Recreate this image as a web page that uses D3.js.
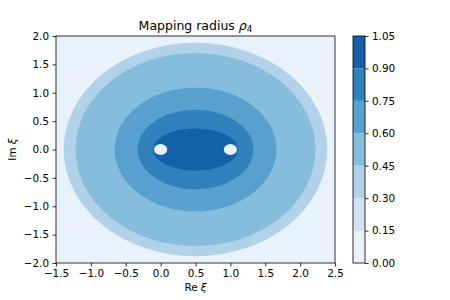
<!DOCTYPE html>
<html>
<head>
<meta charset="utf-8">
<script src="https://cdn.jsdelivr.net/npm/d3@7"></script>
<style>
  body { margin: 0; background: #fff; }
  text { font-family: "DejaVu Sans", sans-serif; fill: #000; }
</style>
</head>
<body>
<div id="chart"></div>
<script>
// contour levels and the colour of each filled band
const levels = [0, 0.15, 0.30, 0.45, 0.60, 0.75, 0.90, 1.05];
const bandColors = ["#e9f2fa", "#cfe1f2", "#b1d2e8", "#86bcdc", "#58a1cf", "#3181bd", "#1461a8"];

// outer edge of each visible band (centre Re = 0.5, Im = 0)
const bandLower = [0.30, 0.45, 0.60, 0.75, 0.90];
const semiRe = [1.89, 1.72, 1.16, 0.83, 0.61];
const semiIm = [1.88, 1.70, 1.09, 0.70, 0.37];
const centerRe = 0.5;

// excluded points
const holesRe = [0, 1];
const holeRadius = 0.095;

const xTicks = [-1.5, -1.0, -0.5, 0.0, 0.5, 1.0, 1.5, 2.0, 2.5];
const yTicks = [-2.0, -1.5, -1.0, -0.5, 0.0, 0.5, 1.0, 1.5, 2.0];

const width = 450, height = 300;
const plot = { left: 56, right: 335, top: 36, bottom: 263 };
const cbar = { left: 353, right: 365 };

const svg = d3.select("#chart").append("svg")
  .attr("width", width)
  .attr("height", height);

const x = d3.scaleLinear().domain([-1.5, 2.5]).range([plot.left, plot.right]);
const y = d3.scaleLinear().domain([-2, 2]).range([plot.bottom, plot.top]);
const colorOf = v => bandColors[d3.bisectRight(levels, v) - 1];

svg.append("clipPath").attr("id", "clip")
  .append("rect")
  .attr("x", plot.left).attr("y", plot.top)
  .attr("width", plot.right - plot.left).attr("height", plot.bottom - plot.top);

const g = svg.append("g").attr("clip-path", "url(#clip)");

// lowest band fills the background
g.append("rect")
  .attr("x", plot.left).attr("y", plot.top)
  .attr("width", plot.right - plot.left).attr("height", plot.bottom - plot.top)
  .attr("fill", colorOf(0));

g.selectAll(".band")
  .data(bandLower)
  .enter()
  .append("ellipse")
  .attr("class", "band")
  .attr("cx", x(centerRe))
  .attr("cy", y(0))
  .attr("rx", (d, i) => x(semiRe[i]) - x(0))
  .attr("ry", (d, i) => y(0) - y(semiIm[i]))
  .attr("fill", d => colorOf(d));

g.selectAll(".hole")
  .data(holesRe)
  .enter()
  .append("ellipse")
  .attr("class", "hole")
  .attr("cx", d => x(d))
  .attr("cy", y(0))
  .attr("rx", x(holeRadius) - x(0))
  .attr("ry", y(0) - y(holeRadius))
  .attr("fill", colorOf(0));

// axes
const fmt = d3.format(".1f");
const xAxis = svg.append("g")
  .attr("transform", `translate(0,${plot.bottom})`)
  .call(d3.axisBottom(x).tickValues(xTicks).tickFormat(fmt).tickSize(3.5).tickPadding(3.5));
const yAxis = svg.append("g")
  .attr("transform", `translate(${plot.left},0)`)
  .call(d3.axisLeft(y).tickValues(yTicks).tickFormat(fmt).tickSize(3.5).tickPadding(3.5));

[xAxis, yAxis].forEach(a => {
  a.select(".domain").remove();
  a.selectAll("line").attr("stroke", "#000").attr("stroke-width", 0.8);
  a.selectAll("text").style("font-size", "10.4px").attr("fill", "#000");
});

svg.append("rect")
  .attr("x", plot.left).attr("y", plot.top)
  .attr("width", plot.right - plot.left).attr("height", plot.bottom - plot.top)
  .attr("fill", "none").attr("stroke", "#000").attr("stroke-width", 0.8);

// title and labels
const title = svg.append("text")
  .attr("x", (plot.left + plot.right) / 2)
  .attr("y", 29.5)
  .attr("text-anchor", "middle")
  .style("font-size", "12.5px");
title.append("tspan").text("Mapping radius ");
title.append("tspan").style("font-style", "italic").text("ρ");
title.append("tspan").attr("dy", 2.5).style("font-size", "8.8px").text("4");

const xl = svg.append("text")
  .attr("x", (plot.left + plot.right) / 2)
  .attr("y", 291)
  .attr("text-anchor", "middle")
  .style("font-size", "10.4px");
xl.append("tspan").text("Re ");
xl.append("tspan").style("font-style", "italic").text("ξ");

const yl = svg.append("text")
  .attr("transform", `translate(16,${y(0)}) rotate(-90)`)
  .attr("text-anchor", "middle")
  .style("font-size", "10.4px");
yl.append("tspan").text("Im ");
yl.append("tspan").style("font-style", "italic").text("ξ");

// colorbar
const cy = d3.scaleLinear().domain([0, 1.05]).range([plot.bottom, plot.top]);
svg.selectAll(".cbar")
  .data(bandColors)
  .enter()
  .append("rect")
  .attr("class", "cbar")
  .attr("x", cbar.left)
  .attr("y", (d, i) => cy(levels[i + 1]))
  .attr("width", cbar.right - cbar.left)
  .attr("height", (d, i) => cy(levels[i]) - cy(levels[i + 1]))
  .attr("fill", d => d);

svg.append("rect")
  .attr("x", cbar.left).attr("y", plot.top)
  .attr("width", cbar.right - cbar.left).attr("height", plot.bottom - plot.top)
  .attr("fill", "none").attr("stroke", "#000").attr("stroke-width", 0.8);

const cAxis = svg.append("g")
  .attr("transform", `translate(${cbar.right},0)`)
  .call(d3.axisRight(cy).tickValues(levels).tickFormat(d3.format(".2f")).tickSize(3.5).tickPadding(3.5));
cAxis.select(".domain").remove();
cAxis.selectAll("line").attr("stroke", "#000").attr("stroke-width", 0.8);
cAxis.selectAll("text").style("font-size", "10.4px").attr("fill", "#000");
</script>
</body>
</html>
